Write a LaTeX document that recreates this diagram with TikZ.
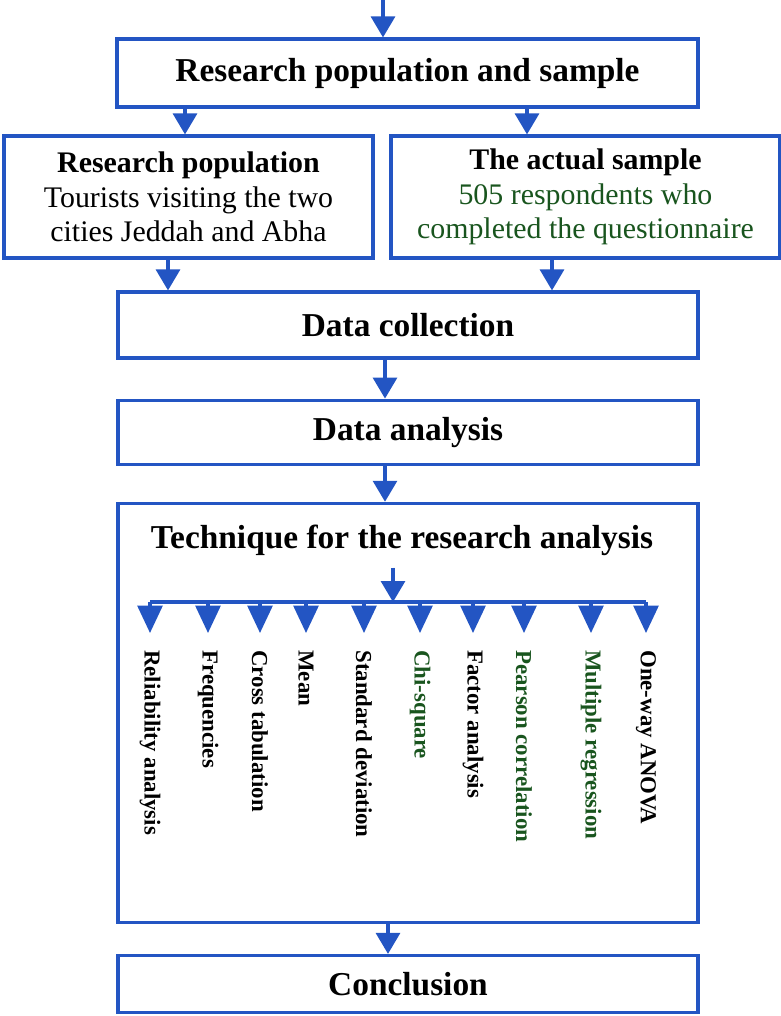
\documentclass[tikz,border=0pt]{standalone}
\usepackage{fontspec}
\setmainfont{Liberation Serif}
\usetikzlibrary{arrows.meta, positioning}
\definecolor{flowblue}{RGB}{35, 85, 195}
\definecolor{textgreen}{RGB}{25, 85, 30}

\begin{document}
\begin{tikzpicture}[
    stagebox/.style={rectangle, draw=flowblue, line width=1.8pt, minimum width=11.6cm, minimum height=1.32cm, font=\fontsize{19}{22}\selectfont\bfseries},
    sidebox/.style={rectangle, draw=flowblue, line width=1.8pt, minimum height=2.44cm, align=center, font=\fontsize{17}{19.5}\selectfont},
    flow/.style={-{Triangle[width=0.48cm, length=0.42cm]}, draw=flowblue, fill=flowblue, line width=1.8pt},
    branch/.style={-{Triangle[width=0.5cm, length=0.55cm]}, draw=flowblue, fill=flowblue, line width=1.8pt},
    method/.style={rotate=-90, anchor=west, inner sep=0pt, font=\fontsize{13}{15}\selectfont\bfseries}
]
\useasboundingbox (0,0) rectangle (15.62,-20.32);

% --- Population and sample ---
\node[stagebox, minimum width=11.62cm, minimum height=1.36cm] (sample) at (8.15,-1.46) {Research population and sample};
\node[sidebox, minimum width=7.38cm] (pop) at (3.77,-3.94)
    {\textbf{Research population}\\Tourists visiting the two\\cities Jeddah and Abha};
\node[sidebox, minimum width=7.78cm] (actual) at (11.71,-3.94)
    {\textbf{The actual sample}\\\textcolor{textgreen}{505 respondents who}\\\textcolor{textgreen}{completed the questionnaire}};

% --- Main column ---
\node[stagebox] (collect) at (8.16,-6.5) {Data collection};
\node[stagebox, minimum height=1.28cm, below=0.78cm of collect] (analysis) {Data analysis};
\node[stagebox, minimum height=8.38cm, below=0.72cm of analysis] (technique) {};
\node[stagebox, minimum height=1.14cm, below=0.6cm of technique] (conclusion) {Conclusion};
\node[font=\fontsize{19}{22}\selectfont\bfseries] (techtitle) at (8.04,-10.8) {Technique for the research analysis};

% columns of the connectors
\coordinate (topin) at (7.66,0);
\coordinate (colL) at (3.70,0);
\coordinate (colR) at (10.54,0);
\coordinate (inL) at (3.36,0);
\coordinate (inR) at (11.04,0);
\coordinate (mid) at (7.70,0);
\coordinate (low) at (7.76,0);
\coordinate (hub) at (7.86,-12.04);

\draw[flow] (topin) -- (sample.north -| topin);
\draw[flow] (sample.south -| colL) -- (pop.north -| colL);
\draw[flow] (sample.south -| colR) -- (actual.north -| colR);
\draw[flow] (pop.south -| inL) -- (collect.north -| inL);
\draw[flow] (actual.south -| inR) -- (collect.north -| inR);
\draw[flow] (collect.south -| mid) -- (analysis.north -| mid);
\draw[flow] (analysis.south -| mid) -- (technique.north -| mid);
\draw[flow] (technique.south -| low) -- (conclusion.north -| low);

% --- Techniques ---
\foreach \x/\lab/\col [count=\i] in {
    3.00/Reliability analysis/black, 4.16/Frequencies/black,
    5.20/Cross tabulation/black, 6.12/Mean/black,
    7.28/Standard deviation/black, 8.40/Chi-square/textgreen,
    9.46/Factor analysis/black, 10.48/Pearson correlation/textgreen,
    11.82/Multiple regression/textgreen, 12.92/One-way ANOVA/black} {
    \node[method, text=\col] (m\i) at (\x,-13.0) {\lab};
    \draw[branch, shorten >=0.34cm] (m\i.west |- hub) -- (m\i.west);
}
\draw[flowblue, line width=1.8pt] (m1.west |- hub) -- (m10.west |- hub);
\draw[flow, shorten <=0.12cm] (techtitle.south -| hub) -- (hub);
\end{tikzpicture}
\end{document}
